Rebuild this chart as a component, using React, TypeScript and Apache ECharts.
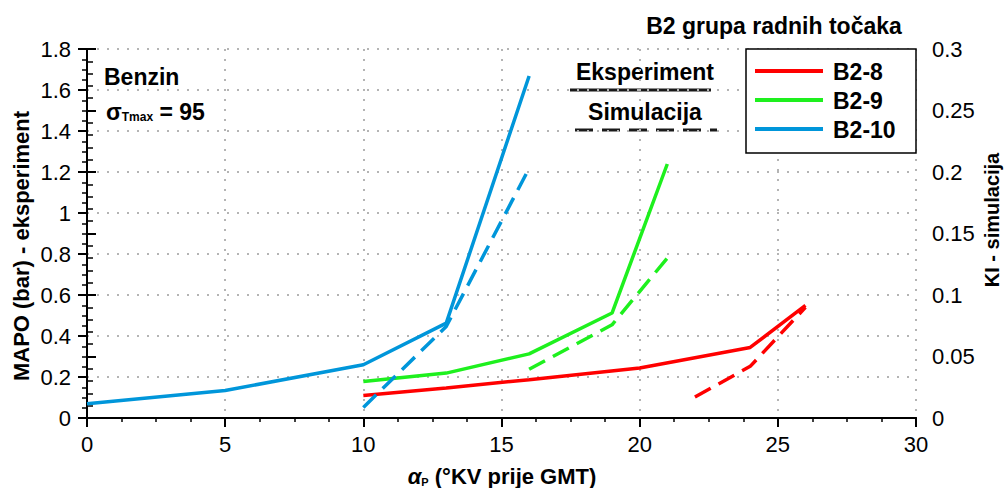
import React, { useEffect, useRef } from 'react';
import * as echarts from 'echarts';

// ---- data ----
const seriesNames = ['B2-8', 'B2-9', 'B2-10'];
const seriesColors = ['#ff0000', '#1ef01e', '#0096da'];

// Experiment (MAPO, bar) – left axis
const exp8X = [10, 13, 16, 20, 24, 26];
const exp8Y = [0.11, 0.146, 0.187, 0.244, 0.344, 0.549];
const exp9X = [10, 13, 16, 19, 21];
const exp9Y = [0.178, 0.219, 0.313, 0.512, 1.239];
const exp10X = [0, 5, 10, 13, 16];
const exp10Y = [0.07, 0.134, 0.26, 0.463, 1.668];

// Simulation (KI) – right axis
const sim8X = [22, 24, 26];
const sim8Y = [0.017, 0.042, 0.09];
const sim9X = [16, 19, 21];
const sim9Y = [0.0396, 0.0758, 0.13];
const sim10X = [10, 13, 16];
const sim10Y = [0.0086, 0.0744, 0.203];

// axes
const xRange = [0, 30, 5];
const leftRange = [0, 1.8, 0.2];
const rightRange = [0, 0.3, 0.05];

const titleText = 'B2 grupa radnih točaka';
const leftTitle = 'MAPO (bar) - eksperiment';
const rightTitle = 'KI - simulacija';

const FONT = '"Liberation Sans", Arial, sans-serif';

const pairs = (xs: number[], ys: number[]) => xs.map((x, i) => [x, ys[i]]);

export default function App() {
  const ref = useRef<HTMLDivElement>(null);
  useEffect(() => {
    if (!ref.current) return;
    const chart = echarts.init(ref.current, undefined, { renderer: 'svg' });

    const solid = (i: number, xs: number[], ys: number[]) => ({
      name: seriesNames[i],
      type: 'line',
      xAxisIndex: 0,
      yAxisIndex: 0,
      data: pairs(xs, ys),
      symbol: 'none',
      lineStyle: { color: seriesColors[i], width: 3.5 },
      itemStyle: { color: seriesColors[i] },
      z: 3,
    });
    const dashed = (i: number, xs: number[], ys: number[]) => ({
      name: seriesNames[i] + ' sim',
      type: 'line',
      xAxisIndex: 0,
      yAxisIndex: 1,
      data: pairs(xs, ys),
      symbol: 'none',
      lineStyle: { color: seriesColors[i], width: 3.5, type: [18, 9] },
      itemStyle: { color: seriesColors[i] },
      z: 3,
    });

    const grid = { type: 'dashed' as const, color: '#b4b4b4', width: 2 };

    const legendY = [71, 100, 129];

    chart.setOption({
      animation: false,
      textStyle: { fontFamily: FONT },
      grid: { left: 87, right: 92, top: 49, bottom: 70, containLabel: false },
      xAxis: [
        {
          type: 'value',
          position: 'bottom',
          min: xRange[0],
          max: xRange[1],
          interval: xRange[2],
          axisLine: { show: true, lineStyle: { color: '#000', width: 2 } },
          axisTick: { show: true, length: 9, lineStyle: { color: '#000', width: 2 } },
          minorTick: { show: true, splitNumber: 4, length: 4, lineStyle: { color: '#000', width: 1.5 } },
          axisLabel: { color: '#000', fontSize: 22, margin: 15, fontFamily: FONT },
          splitLine: { show: true, lineStyle: { color: '#b4b4b4', width: 2, type: [2, 8] } },
        },
        {
          type: 'value',
          position: 'top',
          min: xRange[0],
          max: xRange[1],
          axisLine: { show: true, lineStyle: { color: '#000', width: 2 } },
          axisTick: { show: false },
          axisLabel: { show: false },
          splitLine: { show: false },
        },
      ],
      yAxis: [
        {
          type: 'value',
          position: 'left',
          min: leftRange[0],
          max: leftRange[1],
          interval: leftRange[2],
          axisLine: { show: true, lineStyle: { color: '#000', width: 2 } },
          axisTick: { show: true, length: 9, lineStyle: { color: '#000', width: 2 } },
          minorTick: { show: true, splitNumber: 4, length: 5, lineStyle: { color: '#000', width: 1.5 } },
          axisLabel: { color: '#000', fontSize: 22, margin: 16, fontFamily: FONT },
          splitLine: { show: true, lineStyle: { color: '#b4b4b4', width: 2, type: [2, 8] } },
        },
        {
          type: 'value',
          position: 'right',
          min: rightRange[0],
          max: rightRange[1],
          interval: rightRange[2],
          axisLine: { show: true, lineStyle: { color: '#000', width: 2 } },
          axisTick: { show: true, length: 9, lineStyle: { color: '#000', width: 2 } },
          minorTick: { show: true, splitNumber: 5, length: 6, lineStyle: { color: '#000', width: 1.5 } },
          axisLabel: { color: '#000', fontSize: 22, margin: 16, fontFamily: FONT },
          splitLine: { show: false },
        },
      ],
      series: [
        solid(0, exp8X, exp8Y),
        solid(1, exp9X, exp9Y),
        solid(2, exp10X, exp10Y),
        dashed(0, sim8X, sim8Y),
        dashed(1, sim9X, sim9Y),
        dashed(2, sim10X, sim10Y),
      ],
      graphic: [
        {
          type: 'text',
          style: {
            x: 774, y: 26, text: titleText, align: 'center', verticalAlign: 'middle',
            font: `bold 23px ${FONT}`, fill: '#000',
          },
        },
        {
          type: 'text',
          style: {
            x: 104, y: 77, text: 'Benzin', align: 'left', verticalAlign: 'middle',
            font: `bold 23px ${FONT}`, fill: '#000',
          },
        },
        {
          type: 'text',
          style: {
            x: 106, y: 110, align: 'left', verticalAlign: 'middle',
            text: '{s|σ}{t|Tmax}{s| = 95}',
            rich: {
              s: { fontSize: 23, fontWeight: 'bold', fontFamily: FONT, fill: '#000', lineHeight: 26, verticalAlign: 'bottom' },
              t: { fontSize: 12, fontWeight: 'bold', fontFamily: FONT, fill: '#000', lineHeight: 14, verticalAlign: 'bottom' },
            },
          },
        },
        {
          type: 'text',
          style: {
            x: 645, y: 72, text: 'Eksperiment', align: 'center', verticalAlign: 'middle',
            font: `bold 23px ${FONT}`, fill: '#000',
          },
        },
        {
          type: 'line',
          shape: { x1: 570, y1: 90, x2: 711, y2: 90 },
          style: { stroke: '#1a1a1a', lineWidth: 3 },
        },
        {
          type: 'text',
          style: {
            x: 645, y: 112, text: 'Simulacija', align: 'center', verticalAlign: 'middle',
            font: `bold 23px ${FONT}`, fill: '#000',
          },
        },
        {
          type: 'line',
          shape: { x1: 575, y1: 130, x2: 717, y2: 130 },
          style: { stroke: '#1a1a1a', lineWidth: 3, lineDash: [18, 9] },
        },
        {
          type: 'rect',
          shape: { x: 746, y: 49, width: 170, height: 104 },
          style: { fill: '#fff', stroke: '#000', lineWidth: 1.5 },
          z: 10,
        },
        ...seriesNames.flatMap((n, i) => [
          {
            type: 'line',
            shape: { x1: 755, y1: legendY[i], x2: 823, y2: legendY[i] },
            style: { stroke: seriesColors[i], lineWidth: 4 },
            z: 11,
          },
          {
            type: 'text',
            style: {
              x: 833, y: legendY[i] + 1, text: n, align: 'left', verticalAlign: 'middle',
              font: `bold 23px ${FONT}`, fill: '#000',
            },
            z: 11,
          },
        ]),
        {
          type: 'text',
          x: 21, y: 246, rotation: Math.PI / 2,
          style: {
            x: 0, y: 0, text: leftTitle, align: 'center', verticalAlign: 'middle',
            font: `bold 22px ${FONT}`, fill: '#000',
          },
        },
        {
          type: 'text',
          x: 992, y: 220, rotation: Math.PI / 2,
          style: {
            x: 0, y: 0, text: rightTitle, align: 'center', verticalAlign: 'middle',
            font: `bold 20px ${FONT}`, fill: '#000',
          },
        },
        {
          type: 'text',
          style: {
            x: 502, y: 475, align: 'center', verticalAlign: 'middle',
            text: '{a|α}{p|P}{c| (°KV prije GMT)}',
            rich: {
              a: { fontSize: 22, fontWeight: 'bold', fontStyle: 'italic', fontFamily: FONT, fill: '#000', lineHeight: 24, verticalAlign: 'bottom' },
              p: { fontSize: 11, fontWeight: 'bold', fontFamily: FONT, fill: '#000', lineHeight: 12, verticalAlign: 'bottom' },
              c: { fontSize: 22, fontWeight: 'bold', fontFamily: FONT, fill: '#000', lineHeight: 24, verticalAlign: 'bottom' },
            },
          },
        },
      ],
    });
    return () => chart.dispose();
  }, []);
  return (
    <div
      ref={ref}
      style={{ position: 'fixed', left: 0, top: 0, width: 1008, height: 488, background: '#fff' }}
    />
  );
}
